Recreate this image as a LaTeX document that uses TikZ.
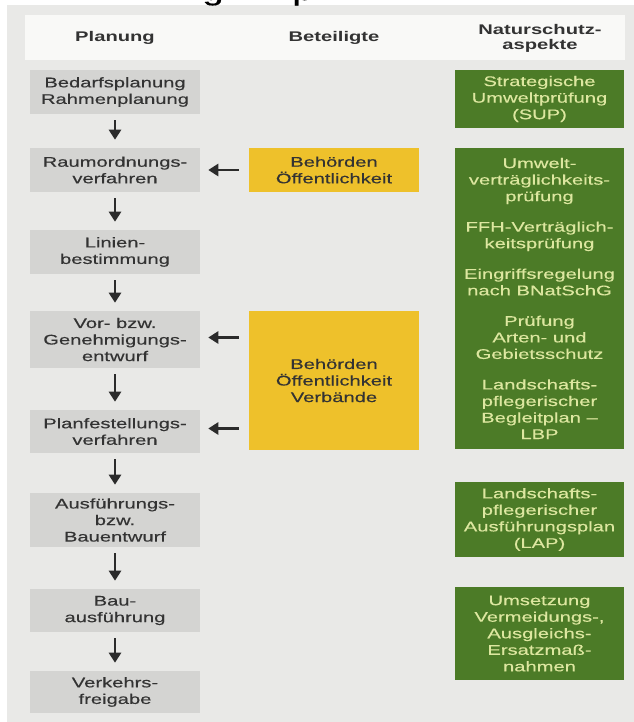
\documentclass[tikz,border=0pt]{standalone}
\usepackage{fontspec}
\setmainfont{Liberation Sans}[FakeStretch=1.44, UprightFeatures={FakeBold=0.35}]
\usetikzlibrary{arrows.meta,calc}
\definecolor{bgpanel}{HTML}{E9E9E7}
\definecolor{hdr}{HTML}{F9F9F7}
\definecolor{graybox}{HTML}{D4D4D2}
\definecolor{yel}{HTML}{EEC12B}
\definecolor{grn}{HTML}{4C7B27}
\definecolor{grntxt}{HTML}{DDE7A0}
\definecolor{ink}{HTML}{333333}
\definecolor{arrcol}{HTML}{2B2B2B}
\begin{document}
\begin{tikzpicture}[x=0.75pt,y=-0.75pt,
  box/.style={inner sep=0pt, minimum width=127.5pt, align=center,
    font=\fontsize{10.5}{12.4}\selectfont, text=ink},
  plan/.style={box, fill=graybox},
  party/.style={box, fill=yel},
  nature/.style={box, fill=grn, text=grntxt, minimum width=126.75pt},
  head/.style={inner sep=0pt, font=\bfseries\fontsize{10.5}{11.25}\selectfont, text=ink, align=center},
  flow/.style={draw=arrcol, line width=2pt, -{Triangle[width=9pt,length=7.5pt]}}
]
\useasboundingbox (0,0) rectangle (634,722);
\fill[white] (0,0) rectangle (634,722);
\fill[bgpanel] (7,5) rectangle (634,722);
% cropped title remnants
\begin{scope}
  \clip (0,0) rectangle (634,5);
  \node[anchor=base, inner sep=0pt, font=\fontsize{20}{24}\selectfont] (tg) at (213,0) {g};
  \node[anchor=base, inner sep=0pt, font=\fontsize{20}{24}\selectfont] (tp) at (303,0) {p};
\end{scope}
% header
\fill[hdr] (25,15) rectangle (625,60);
\node[head] (h1) at (115,38) {Planung};
\node[head] (h2) at (334,38) {Beteiligte};
\node[head] (h3) at (540,38.5) {Naturschutz-\\aspekte};
% planning column
\node[plan, minimum height=33pt]    (b1) at (115,92)    {Bedarfsplanung\\Rahmenplanung};
\node[plan, minimum height=33pt]    (b2) at (115,170)   {Raumordnungs-\\verfahren};
\node[plan, minimum height=33pt]    (b3) at (115,252)   {Linien-\\bestimmung};
\node[plan, minimum height=42.75pt] (b4) at (115,339.5) {Vor- bzw.\\Genehmigungs-\\entwurf};
\node[plan, minimum height=32.25pt] (b5) at (115,431.5) {Planfestellungs-\\verfahren};
\node[plan, minimum height=40.5pt]  (b6) at (115,520)   {Ausführungs-\\bzw.\\Bauentwurf};
\node[plan, minimum height=32.25pt] (b7) at (115,610.5) {Bau-\\ausführung};
\node[plan, minimum height=31.5pt]  (b8) at (115,692)   {Verkehrs-\\freigabe};
% participants
\node[party, minimum height=33pt]     (y1) at (334,170)   {Behörden\\Öffentlichkeit};
\node[party, minimum height=104.25pt] (y2) at (334,380.5) {Behörden\\Öffentlichkeit\\Verbände};
% nature conservation
\node[nature, minimum height=43.5pt]   (g1) at (539.5,99)    {Strategische\\Umweltprüfung\\(SUP)};
\node[nature, minimum height=225.75pt] (g2) at (539.5,298.5) {Umwelt-\\verträglichkeits-\\prüfung\\[10.5pt]FFH-Verträglich-\\keitsprüfung\\[10.5pt]Eingriffsregelung\\nach BNatSchG\\[10.5pt]Prüfung\\Arten- und\\Gebietsschutz\\[10.5pt]Landschafts-\\pflegerischer\\Begleitplan –\\LBP};
\node[nature, minimum height=56.25pt]  (g3) at (539.5,519.5) {Landschafts-\\pflegerischer\\Ausführungsplan\\(LAP)};
\node[nature, minimum height=69.75pt]  (g4) at (539.5,633.5) {Umsetzung\\Vermeidungs-,\\Ausgleichs-\\Ersatzmaß-\\nahmen};
% vertical flow
\foreach \a/\b in {b1/b2,b2/b3,b3/b4,b4/b5,b5/b6,b6/b7,b7/b8}
  \draw[flow] ($(\a.south)+(0,6)$) -- ($(\b.north)+(0,-8)$);
% participation arrows
\draw[flow] ($(y1.west)+(-10,0)$) -- ($(b2.east)+(8,0)$);
\draw[flow] ($(y2.west |- b4.east)+(-10,-2)$) -- ($(b4.east)+(8,-2)$);
\draw[flow] ($(y2.west |- b5.east)+(-10,-3)$) -- ($(b5.east)+(8,-3)$);
\end{tikzpicture}
\end{document}
